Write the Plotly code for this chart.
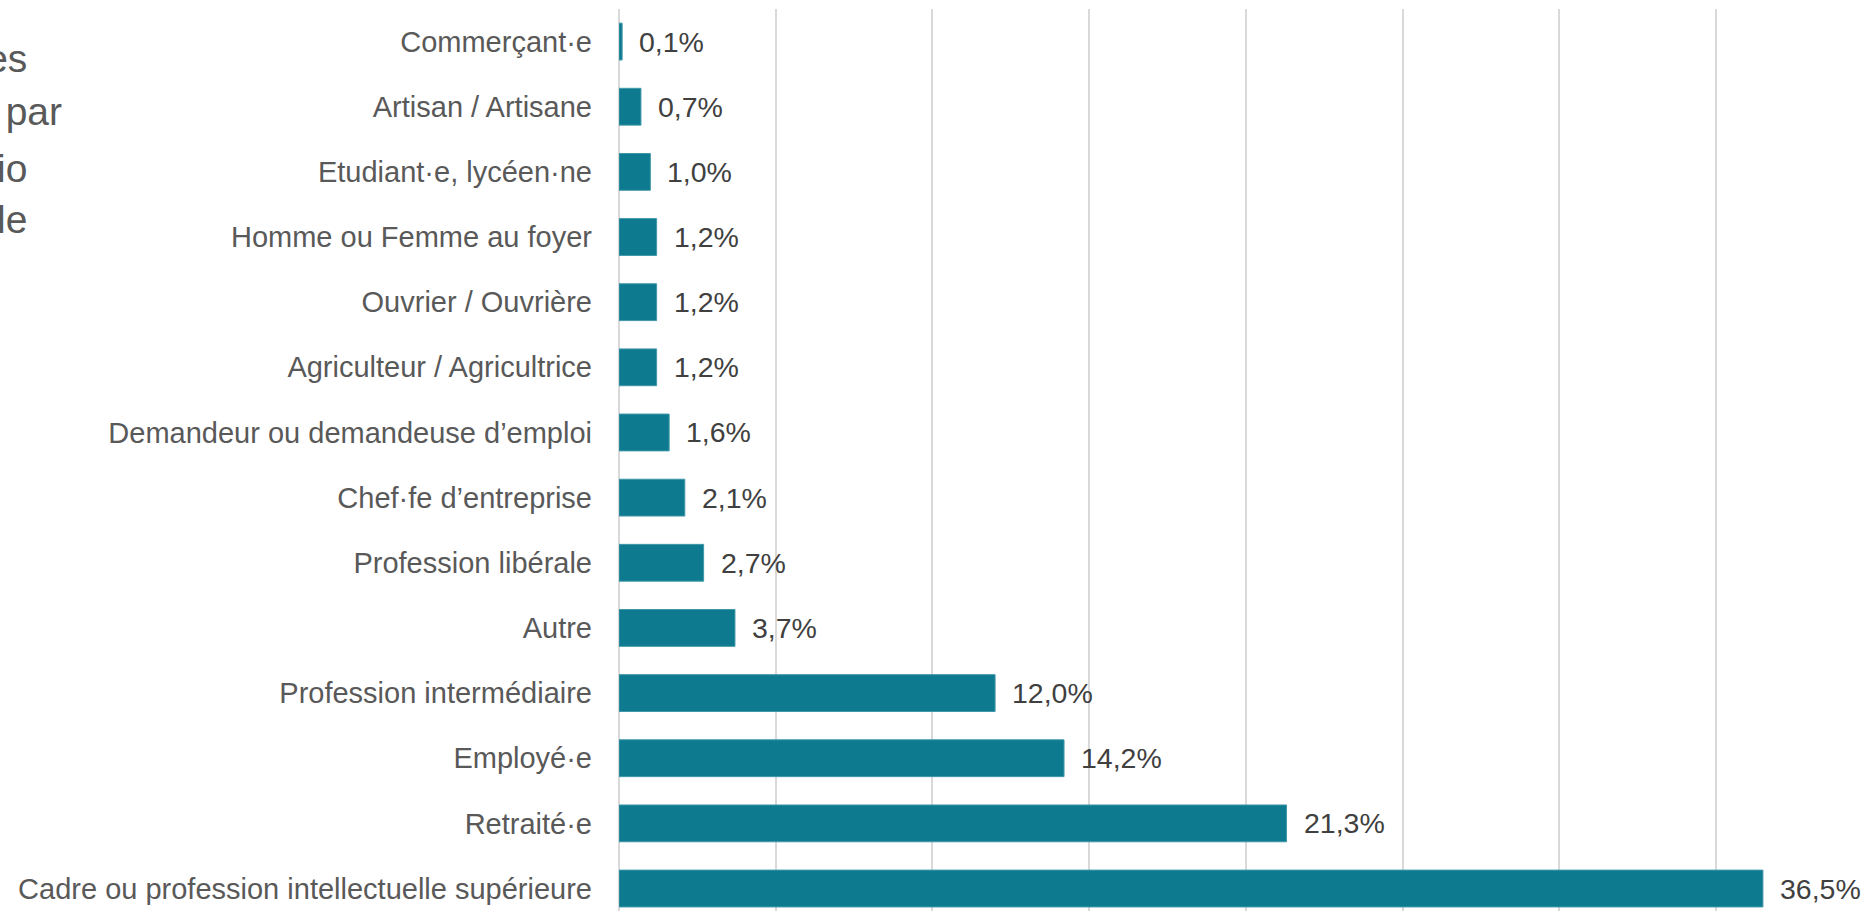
import plotly.graph_objects as go

categories = [
    "Commerçant·e",
    "Artisan / Artisane",
    "Etudiant·e, lycéen·ne",
    "Homme ou Femme au foyer",
    "Ouvrier / Ouvrière",
    "Agriculteur / Agricultrice",
    "Demandeur ou demandeuse d’emploi",
    "Chef·fe d’entreprise",
    "Profession libérale",
    "Autre",
    "Profession intermédiaire",
    "Employé·e",
    "Retraité·e",
    "Cadre ou profession intellectuelle supérieure",
]
values = [0.1, 0.7, 1.0, 1.2, 1.2, 1.2, 1.6, 2.1, 2.7, 3.7, 12.0, 14.2, 21.3, 36.5]
title_lines = ["Répartition des", "répondant·es par", "catégorie socio", "professionnelle"]

W, H = 1870, 911
ML, MR, MT, MB = 619, 0, 9, 0
plot_w = W - ML - MR
plot_h = H - MT - MB
px_per_pct = 31.34
cat_px = 65.15

BAR = "#0E7A8F"
GRID = "#D9D9D9"
LABEL = "#595959"
DATA = "#404040"
FONT = "Liberation Sans, Arial, sans-serif"

fig = go.Figure()
fig.add_trace(go.Bar(
    x=values, y=categories, orientation="h",
    marker=dict(color=BAR, line=dict(color="#3F97A8", width=1)),
    width=0.565, hoverinfo="x+y",
))

annotations = []
for c, v in zip(categories, values):
    annotations.append(dict(
        x=v, y=c, xref="x", yref="y", xanchor="left", yanchor="middle",
        xshift=15, showarrow=False,
        text=f"{v:.1f}".replace(".", ",") + "%",
        font=dict(family=FONT, size=28.5, color=DATA),
    ))

# title partly outside the canvas (cropped as in the reference)
tsize = 39
title_x_px = 27 - 6.771 * tsize
baselines = [71, 124, 181, 232]
for line, b in zip(title_lines, baselines):
    center_px = b - 0.33 * tsize
    annotations.append(dict(
        x=(title_x_px - ML) / plot_w, y=1 - (center_px - MT) / plot_h,
        xref="paper", yref="paper", xanchor="left", yanchor="middle",
        showarrow=False, align="left", text=line,
        font=dict(family=FONT, size=tsize, color=LABEL),
    ))

n_units = plot_h / cat_px
fig.update_layout(
    width=W, height=H,
    margin=dict(l=ML, r=MR, t=MT, b=MB, pad=0),
    paper_bgcolor="white", plot_bgcolor="white",
    showlegend=False,
    annotations=annotations,
    xaxis=dict(
        range=[0, plot_w / px_per_pct], tick0=0, dtick=5,
        showgrid=True, gridcolor=GRID, gridwidth=2,
        zeroline=True, zerolinecolor=GRID, zerolinewidth=2,
        showticklabels=False, showline=False, ticks="",
    ),
    yaxis=dict(
        type="category", categoryorder="array", categoryarray=categories,
        range=[-0.5 + n_units, -0.5],
        showgrid=False, zeroline=False, showline=False, ticks="",
        ticklabelstandoff=26,
        tickfont=dict(family=FONT, size=29, color=LABEL),
    ),
)

fig.write_html(
    "out.html",
    config={"displayModeBar": False},
    post_script="document.body.style.margin='0';document.body.style.overflow='hidden';",
)
